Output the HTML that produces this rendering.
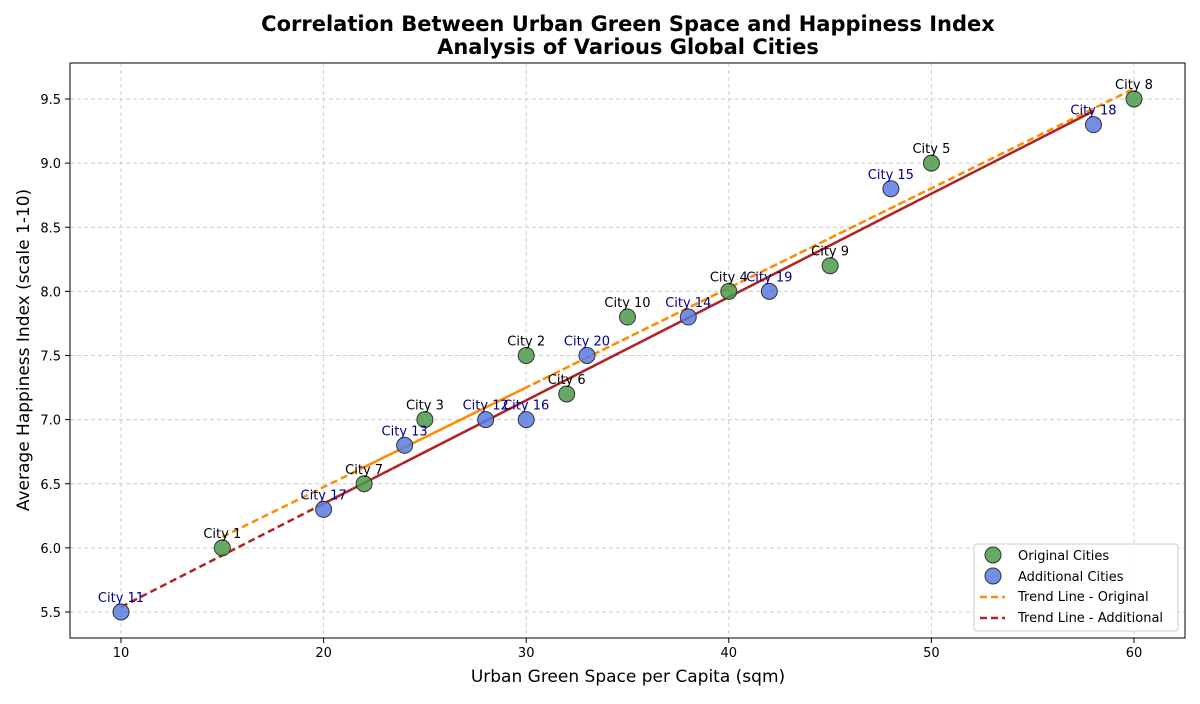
<!DOCTYPE html>
<html><head><meta charset="utf-8"><style>
body{margin:0;background:#fff;font-family:"DejaVu Sans","Liberation Sans",sans-serif}
</style></head><body>
<svg id="chart" width="1200" height="700" xmlns="http://www.w3.org/2000/svg" font-family="DejaVu Sans, Liberation Sans, sans-serif">
<text x="628" y="31" text-anchor="middle" font-size="21" font-weight="bold">Correlation Between Urban Green Space and Happiness Index</text>
<text x="628" y="54" text-anchor="middle" font-size="21" font-weight="bold">Analysis of Various Global Cities</text>
<g id="grid"></g><g id="axes"></g><g id="lines"></g><g id="points"></g><g id="labels"></g>
<rect x="70" y="63" width="1115" height="575" fill="none" stroke="#000" stroke-width="1"/>
<text x="628" y="682" text-anchor="middle" font-size="17">Urban Green Space per Capita (sqm)</text>
<text transform="translate(29,350) rotate(-90)" text-anchor="middle" font-size="17">Average Happiness Index (scale 1-10)</text>
<g>
<rect x="974" y="544" width="204" height="87" rx="3" fill="#fff" fill-opacity="0.85" stroke="#ccc"/>
<circle cx="993" cy="555" r="8" fill="#4a9a4a" fill-opacity="0.85" stroke="#333"/>
<text x="1018" y="560" font-size="13">Original Cities</text>
<circle cx="993" cy="576" r="8" fill="#5b7be0" fill-opacity="0.85" stroke="#333"/>
<text x="1018" y="581" font-size="13">Additional Cities</text>
<line x1="980" y1="597" x2="1005" y2="597" stroke="#ff8c00" stroke-width="2.5" stroke-dasharray="7,4"/>
<text x="1018" y="601" font-size="13">Trend Line - Original</text>
<line x1="980" y1="618" x2="1005" y2="618" stroke="#b22222" stroke-width="2.5" stroke-dasharray="7,4"/>
<text x="1018" y="622" font-size="13">Trend Line - Additional</text>
</g>
</svg>
<script>
const origX=[15,30,25,40,50,32,22,60,45,35];
const origY=[6.0,7.5,7.0,8.0,9.0,7.2,6.5,9.5,8.2,7.8];
const origNames=["City 1","City 2","City 3","City 4","City 5","City 6","City 7","City 8","City 9","City 10"];
const addX=[10,28,24,38,48,30,20,58,42,33];
const addY=[5.5,7.0,6.8,7.8,8.8,7.0,6.3,9.3,8.0,7.5];
const addNames=["City 11","City 12","City 13","City 14","City 15","City 16","City 17","City 18","City 19","City 20"];
const xTicks=[10,20,30,40,50,60];
const yTicks=[5.5,6.0,6.5,7.0,7.5,8.0,8.5,9.0,9.5];
const NS="http://www.w3.org/2000/svg";
const sx=v=>121+(v-10)*20.26;
const sy=v=>612-(v-5.5)*128.25;
function mk(tag,attrs,parent){const e=document.createElementNS(NS,tag);for(const k in attrs)e.setAttribute(k,attrs[k]);document.getElementById(parent).appendChild(e);return e;}
xTicks.forEach(t=>{
 const g=mk('line',{x1:sx(t),x2:sx(t),y1:63,y2:638,stroke:'#ccc','stroke-dasharray':'4,3'},'grid');
 
 
 mk('line',{x1:sx(t),x2:sx(t),y1:638,y2:643,stroke:'#000'},'axes');
 const l=mk('text',{x:sx(t),y:657,'text-anchor':'middle','font-size':13},'axes');l.textContent=t;
 
 
});
yTicks.forEach(t=>{
 const g=mk('line',{x1:70,x2:1185,y1:sy(t),y2:sy(t),stroke:'#ccc','stroke-dasharray':'4,3'},'grid');
 
 
 mk('line',{x1:65,x2:70,y1:sy(t),y2:sy(t),stroke:'#000'},'axes');
 const l=mk('text',{x:61,y:sy(t)+5,'text-anchor':'end','font-size':13},'axes');l.textContent=t.toFixed(1);
 
 
});
function fit(xs,ys){const n=xs.length,mx=xs.reduce((a,b)=>a+b)/n,my=ys.reduce((a,b)=>a+b)/n;let num=0,den=0;xs.forEach((x,i)=>{num+=(x-mx)*(ys[i]-my);den+=(x-mx)**2});const m=num/den;return [m,my-m*mx];}
function trend(xs,ys,color,name){const [m,b]=fit(xs,ys);const pts=xs.map(x=>sx(x)+','+sy(m*x+b)).join(' ');
 const p=mk('polyline',{points:pts,fill:'none',stroke:color,'stroke-width':2.5,'stroke-dasharray':'7,4'},'lines');
 
 }
trend(origX,origY,'#ff8c00','trend-line-original');
trend(addX,addY,'#b22222','trend-line-additional');
function pts(xs,ys,names,fill,lc,name){xs.forEach((x,i)=>{
 const c=mk('circle',{cx:sx(x),cy:sy(ys[i]),r:8,fill:fill,'fill-opacity':0.85,stroke:'#333','stroke-width':1},'points');
 
 
 const t=mk('text',{x:sx(x),y:sy(ys[i])-10,'text-anchor':'middle','font-size':13,fill:lc},'labels');t.textContent=names[i];
 
 
});}
pts(origX,origY,origNames,'#4a9a4a','#000','original-city-point');
pts(addX,addY,addNames,'#5b7be0','#00008b','additional-city-point');
</script>
</body></html>
